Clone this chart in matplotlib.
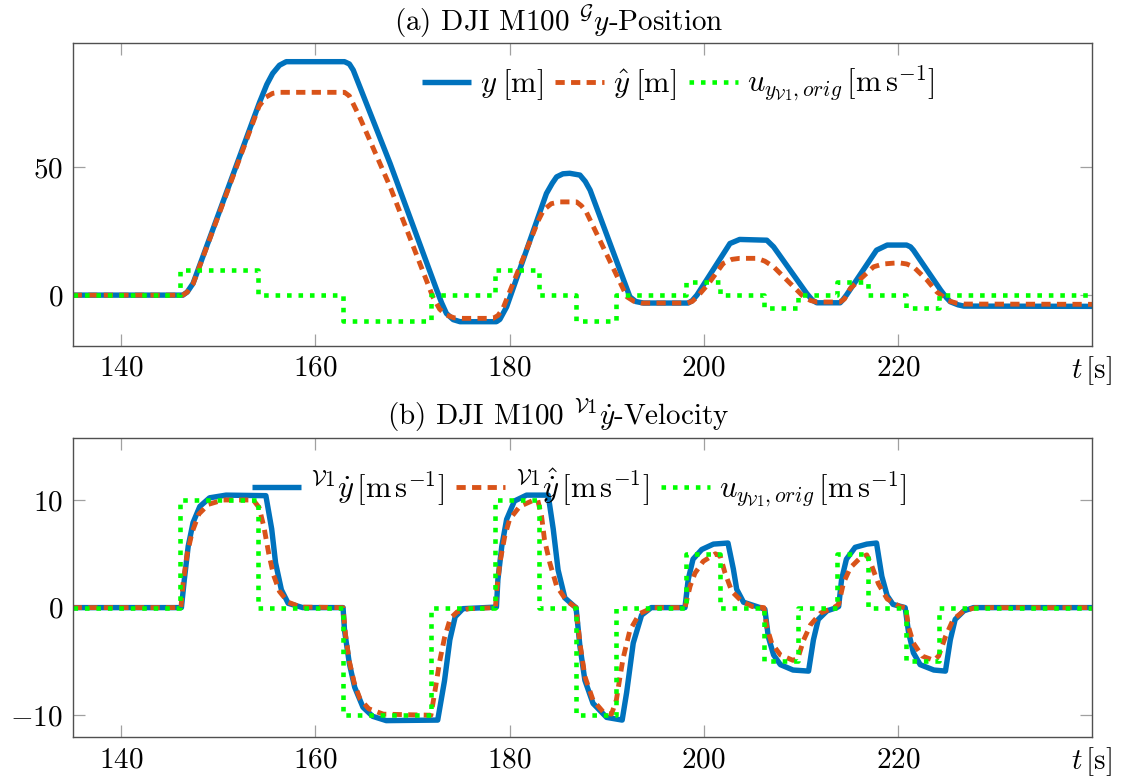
import matplotlib
matplotlib.use("Agg")
import matplotlib.pyplot as plt

# --- data ------------------------------------------------------------------
# commanded velocity (step input), shared by both panels
u_t = [135, 146.1, 154.1, 162.85, 171.95, 178.55, 183.05, 186.85, 190.95,
       198.15, 201.7, 206.2, 209.75, 213.7, 216.95, 220.8, 224.2, 240]
u_val = [0, 10, 0, -10, 0, 10, 0, -10, 0, 5, 0, -5, 0, 5, 0, -5, 0, 0]

# position y [m]
pos_t = [135, 146.35, 146.8, 147.4, 154.25, 155.0, 155.6, 156.3, 157.0, 163.0,
         163.5, 163.9, 167.7, 172.5, 173.0, 173.5, 174.2, 174.9, 178.65, 179.0,
         179.7, 183.8, 184.4, 184.85, 185.5, 186.2, 187.25, 187.8, 188.3, 192.4,
         193.0, 193.8, 198.4, 198.8, 199.3, 202.7, 203.7, 206.5, 207.2, 210.6,
         211.2, 211.65, 214.05, 214.3, 214.7, 217.8, 218.9, 220.9, 221.3, 221.6,
         224.4, 225.0, 225.4, 226.2, 226.8, 240]
pos_y = [0, 0, 1.2, 4.6, 75.5, 82.5, 86.8, 90.0, 91.4, 91.4,
         90.5, 88.1, 51.5, 2.0, -3.0, -7.2, -9.6, -10.4, -10.4, -9.5,
         -4.6, 39.8, 43.8, 46.3, 47.5, 47.7, 47.0, 44.5, 41.1, -0.7,
         -2.5, -3.1, -3.1, -2.2, 0, 20.2, 21.8, 21.5, 18.9, 0.7,
         -2.0, -3.0, -3.0, -2.0, 0, 17.6, 19.6, 19.6, 18.9, 17.6,
         2.0, -1.0, -2.6, -3.8, -4.3, -4.4]

# estimated position y_hat [m]
pos_hat_t = [135, 146.35, 146.8, 147.4, 154.2, 154.9, 155.6, 156.3, 163.0, 163.5,
             164.55, 167.7, 172.1, 172.8, 173.5, 174.3, 175.2, 178.3, 178.8, 179.3,
             183.0, 183.5, 184.3, 185.2, 186.9, 187.4, 187.9, 192.1, 192.8, 193.6,
             198.3, 198.8, 199.3, 200.5, 202.0, 202.9, 203.7, 205.5, 206.3, 207.2,
             210.3, 211.0, 211.65, 214.05, 214.5, 215.1, 217.5, 218.5, 219.5, 220.2,
             220.9, 221.6, 223.0, 224.0, 225.2, 226.0, 226.8, 240]
pos_hat_y = [0, 0, 1.2, 4.4, 74.0, 77.5, 79.0, 79.4, 79.4, 78.0,
             69.8, 42.4, -0.7, -5.5, -7.8, -8.9, -9.1, -9.1, -8.0, -5.4,
             29.5, 33.3, 35.8, 36.5, 36.5, 35.0, 32.6, -0.7, -2.4, -3.1,
             -3.1, -2.5, -0.8, 4.5, 12.4, 14.0, 14.4, 14.4, 13.3, 11.1,
             -0.7, -2.1, -2.7, -2.7, -1.5, 2.6, 11.1, 12.2, 12.5, 12.6,
             12.2, 11.1, 5.9, 1.3, -2.2, -3.1, -3.5, -3.6]

# velocity V1 y_dot [m/s]
vel_t = [135, 146.2, 146.5, 146.9, 147.4, 148.1, 149.1, 150.8, 154.9, 155.5,
         155.9, 156.5, 157.2, 158.7, 162.85, 163.0, 163.5, 164.05, 164.9, 165.9,
         167.3, 172.6, 173.3, 173.85, 174.4, 175.2, 178.65, 178.8, 179.2, 179.7,
         180.5, 181.75, 183.98, 184.5, 185.0, 185.7, 186.7, 186.85, 187.25, 187.76,
         188.6, 190.0, 191.6, 192.06, 192.74, 193.6, 194.6, 198.07, 198.4, 198.9,
         199.8, 201.0, 202.5, 203.05, 203.4, 204.1, 205.8, 206.3, 206.65, 207.2,
         207.9, 209.2, 210.8, 211.3, 211.8, 212.7, 213.7, 213.9, 214.2, 214.7,
         215.6, 216.8, 217.8, 218.35, 218.9, 219.5, 220.75, 221.1, 221.6, 222.3,
         223.7, 224.9, 225.4, 225.9, 226.8, 227.8, 240]
vel_y = [0, 0, 2.6, 5.7, 7.9, 9.4, 10.2, 10.45, 10.4, 7.3,
         4.15, 1.65, 0.4, 0, 0, -2.1, -5.2, -7.4, -9.25, -10.1,
         -10.5, -10.45, -6.8, -3.0, -0.85, -0.1, 0.05, 2.6, 5.7, 8.2,
         9.9, 10.45, 10.45, 7.3, 3.5, 0.9, 0.1, 0, -3.6, -6.75,
         -8.9, -10.2, -10.45, -7.9, -3.3, -0.7, 0, 0, 2.6, 4.5,
         5.4, 5.9, 6.0, 3.6, 1.7, 0.5, 0, -0.15, -2.7, -4.4,
         -5.3, -5.8, -5.9, -3.0, -1.1, -0.3, 0, 0.1, 2.6, 4.5,
         5.6, 5.9, 6.0, 2.9, 1.1, 0.3, 0, -2.3, -4.2, -5.3,
         -5.8, -5.9, -3.0, -1.1, -0.3, 0, 0]

# estimated velocity
vel_hat_t = [135, 146.15, 146.4, 146.8, 147.3, 148.0, 149.0, 150.5, 153.6, 154.2,
             154.7, 155.2, 155.7, 156.3, 157.2, 158.5, 162.85, 163.1, 163.5, 164.0,
             164.6, 165.5, 167.0, 171.9, 172.05, 172.4, 172.8, 173.3, 173.9, 174.6,
             175.8, 178.55, 178.65, 179.0, 179.5, 180.0, 181.05, 182.4, 182.9, 183.3,
             183.6, 184.15, 184.85, 185.9, 186.7, 186.85, 187.25, 187.76, 188.6, 189.65,
             190.5, 191.0, 191.4, 191.7, 192.4, 193.4, 194.8, 198.07, 198.6, 199.1,
             199.95, 201.2, 201.7, 202.2, 202.9, 203.9, 205.0, 206.2, 206.5, 207.0,
             207.9, 209.2, 209.7, 210.3, 211.0, 212.05, 213.4, 213.9, 214.4, 215.1,
             216.1, 216.8, 217.3, 218.0, 218.9, 220.2, 220.8, 221.1, 221.6, 222.5,
             223.7, 224.2, 224.9, 225.7, 226.8, 228.0, 240]
vel_hat_y = [0, 0, 2.5, 5.0, 7.0, 8.7, 9.6, 10.0, 10.0, 9.3,
             7.5, 5.0, 3.0, 1.5, 0.5, 0.05, 0, -2.5, -5.0, -7.0,
             -8.5, -9.4, -9.9, -10.0, -9.2, -7.3, -5.0, -2.8, -1.0, -0.4,
             -0.1, 0, 1.35, 4.15, 6.6, 8.2, 9.4, 9.95, 10.0, 8.5,
             6.3, 4.15, 2.0, 0.6, 0.1, 0, -3.3, -6.4, -8.6, -9.7,
             -9.9, -8.6, -6.3, -4.7, -2.1, -0.55, 0, 0, 2.0, 3.2,
             4.3, 5.0, 4.8, 3.2, 1.5, 0.6, 0.1, 0, -1.8, -3.3,
             -4.4, -4.9, -4.7, -3.0, -1.6, -0.5, 0, 0.3, 2.3, 3.7,
             4.6, 4.9, 3.9, 2.2, 0.8, 0.1, 0, -1.8, -3.3, -4.5,
             -4.9, -4.5, -2.7, -1.1, -0.3, 0, 0]

x_ticks = [140, 160, 180, 200, 220]

# --- style --------------------------------------------------------------------
plt.rcParams['font.family'] = 'serif'
plt.rcParams['font.serif'] = ['cmr10']
plt.rcParams['mathtext.fontset'] = 'cm'
plt.rcParams['axes.formatter.use_mathtext'] = True

BLUE = '#0072BD'
ORANGE = '#D95319'
GREEN = '#00FF00'
FS = 21
LFS = 22

blue_kw = dict(color=BLUE, lw=3.9, solid_capstyle='butt', solid_joinstyle='round')
orange_kw = dict(color=ORANGE, lw=3.5, linestyle=(0, (1.9, 1.3)), dash_capstyle='butt')
green_kw = dict(color=GREEN, lw=3.3, linestyle=(0, (1.0, 1.5)), dash_capstyle='butt',
                drawstyle='steps-post')
leg_kw = dict(loc='center', ncol=3, frameon=False, fontsize=LFS, handlelength=1.6,
              handletextpad=0.3, columnspacing=0.4, borderpad=0, borderaxespad=0)

fig = plt.figure(figsize=(11.25, 7.8), dpi=100)
ax1 = fig.add_axes([0.0646, 0.5568, 0.9061, 0.3877])
ax2 = fig.add_axes([0.0646, 0.05474, 0.9061, 0.3843])

unit_v = r'$\,[\mathrm{m\,s}^{-1}]$'

# (a) position ==================================================================
ax1.plot(pos_t, pos_y, label=r'$y\;[\mathrm{m}]$', **blue_kw)
ax1.plot(pos_hat_t, pos_hat_y, label=r'$\hat{y}\;[\mathrm{m}]$', **orange_kw)
ax1.plot(u_t, u_val, label=r'$u_{y_{\mathcal{V}1},orig}$' + unit_v, **green_kw)
ax1.set_ylim(-19.8, 98.6)
ax1.set_yticks([0, 50])
ax1.legend(bbox_to_anchor=(0.594, 0.865), **leg_kw)
fig.text(0.4964, 1 - 31 / 780, r'(a) DJI M100 ${}^{\mathcal{G}}y$-Position',
         ha='center', va='baseline', fontsize=FS)
fig.text(1112 / 1125, 1 - 378 / 780, r'$t\,[\mathrm{s}]$', ha='right', va='baseline',
         fontsize=FS)

# (b) velocity ==================================================================
ax2.plot(vel_t, vel_y, label=r'${}^{\mathcal{V}1}\dot{y}$' + unit_v, **blue_kw)
ax2.plot(vel_hat_t, vel_hat_y, label=r'${}^{\mathcal{V}1}\hat{\dot{y}}$' + unit_v, **orange_kw)
ax2.plot(u_t, u_val, label=r'$u_{y_{\mathcal{V}1},orig}$' + unit_v, **green_kw)
ax2.set_ylim(-12.05, 15.8)
ax2.set_yticks([-10, 0, 10])
ax2.legend(bbox_to_anchor=(0.497, 0.832), **leg_kw)
fig.text(0.4964, 1 - 425 / 780, r'(b) DJI M100 ${}^{\mathcal{V}1}\dot{y}$-Velocity',
         ha='center', va='baseline', fontsize=FS)
fig.text(1112 / 1125, 1 - 769 / 780, r'$t\,[\mathrm{s}]$', ha='right', va='baseline',
         fontsize=FS)

for ax in (ax1, ax2):
    ax.set_xlim(135, 240)
    ax.set_xticks(x_ticks)
    ax.tick_params(direction='in', length=8.5, width=0.9, color='#a0a0a0',
                   top=True, right=True, labelsize=FS, pad=7)
    for s in ax.spines.values():
        s.set_color('#505050')
        s.set_linewidth(1.0)

fig.savefig('out.png', dpi=100)
